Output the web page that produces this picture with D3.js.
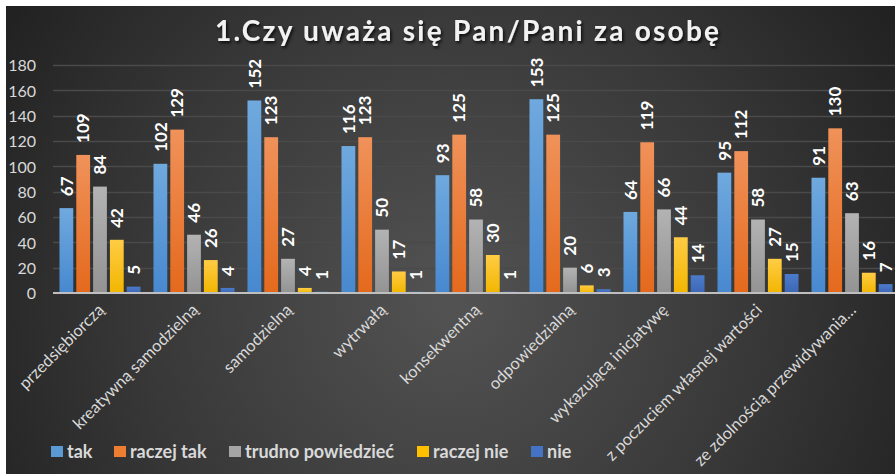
<!DOCTYPE html>
<html><head><meta charset="utf-8">
<script src="https://cdn.jsdelivr.net/npm/d3@7"></script>
<style>
html,body{margin:0;padding:0;background:#fff;}
svg{display:block;}
</style></head>
<body>
<svg id="c" width="895" height="474"></svg>
<script>
const categories = ["przedsiębiorczą","kreatywną samodzielną","samodzielną","wytrwałą","konsekwentną","odpowiedzialną","wykazującą inicjatywę","z poczuciem własnej wartości","ze zdolnością przewidywania…"];
const seriesNames = ["tak","raczej tak","trudno powiedzieć","raczej nie","nie"];
const tak        = [67,102,152,116,93,153,64,95,91];
const raczejTak  = [109,129,123,123,125,125,119,112,130];
const trudno     = [84,46,27,50,58,20,66,58,63];
const raczejNie  = [42,26,4,17,30,6,44,27,16];
const nie        = [5,4,1,1,1,3,14,15,7];
const yTicks     = [0,20,40,60,80,100,120,140,160,180];
const title = "1.Czy uważa się Pan/Pani za osobę";

const seriesValues = [tak, raczejTak, trudno, raczejNie, nie];
const colors = [
  ["#6fa9de","#4788cf"],
  ["#f0925a","#e4691c"],
  ["#b3b3b3","#939393"],
  ["#ffcc45","#f2b600"],
  ["#4c7bcb","#3d66b6"]
];
const legendColors = ["#5b9bd5","#ed7d31","#a5a5a5","#ffc000","#4472c4"];

const svg = d3.select("#c");
const defs = svg.append("defs");
const bg = defs.append("radialGradient").attr("id","bg")
  .attr("gradientUnits","userSpaceOnUse").attr("cx",450).attr("cy",300).attr("r",560);
bg.append("stop").attr("offset","0").attr("stop-color","#535353");
bg.append("stop").attr("offset","0.55").attr("stop-color","#383838");
bg.append("stop").attr("offset","1").attr("stop-color","#1e1e1e");
colors.forEach((c,i)=>{
  const g = defs.append("linearGradient").attr("id","g"+i).attr("x1",0).attr("y1",0).attr("x2",0).attr("y2",1);
  g.append("stop").attr("offset",0).attr("stop-color",c[0]);
  g.append("stop").attr("offset",1).attr("stop-color",c[1]);
});
const f = defs.append("filter").attr("id","sh").attr("x","-5%").attr("y","-20%").attr("width","110%").attr("height","160%");
f.append("feDropShadow").attr("dx",1.5).attr("dy",2).attr("stdDeviation",1.5).attr("flood-color","#000").attr("flood-opacity",0.8);

// background
svg.append("rect").attr("x",0).attr("y",0).attr("width",895).attr("height",474).attr("fill","#fff");
svg.append("rect").attr("x",6).attr("y",6).attr("width",889).attr("height",468).attr("fill","url(#bg)");

const y = d3.scaleLinear().domain([0,180]).range([293,65]);
const x0 = d3.scaleBand().domain(categories).range([53,899]).paddingInner(0.138).paddingOuter(0.069);
const x1 = d3.scaleBand().domain(seriesNames).range([0,x0.bandwidth()]).paddingInner(0.18);

// gridlines
svg.append("g").selectAll("line").data(yTicks.filter(d=>d>0)).join("line")
  .attr("x1",53).attr("x2",895).attr("y1",d=>Math.round(y(d))+0.5).attr("y2",d=>Math.round(y(d))+0.5)
  .attr("stroke","#4a4a4a").attr("stroke-width",1.5);

// y axis labels
const yAxis = d3.axisLeft(y).tickValues(yTicks).tickSize(0).tickPadding(0);
const ya = svg.append("g").attr("transform","translate(36,0)").call(yAxis);
ya.select(".domain").remove();
ya.selectAll("text").attr("fill","#d9d9d9").attr("font-family","Lato, 'Open Sans', sans-serif")
  .attr("font-size",16).attr("dy","0.36em");

// bars
const groups = svg.append("g").selectAll("g").data(categories).join("g")
  .attr("transform",d=>`translate(${x0(d)},0)`);
groups.each(function(cat,ci){
  const g = d3.select(this);
  seriesNames.forEach((s,si)=>{
    const v = seriesValues[si][ci];
    g.append("rect").attr("x",x1(s)).attr("y",y(v)).attr("width",x1.bandwidth())
      .attr("height",y(0)-y(v)).attr("fill",`url(#g${si})`);
    const cx = x1(s)+x1.bandwidth()/2;
    const ty = y(v)-12;
    g.append("text").attr("transform",`translate(${cx},${ty}) rotate(-90)`)
      .attr("dy","0.36em").attr("text-anchor","start")
      .attr("fill","#ffffff").attr("font-family","Lato, 'Open Sans', sans-serif")
      .attr("font-weight","bold").attr("font-size",17).text(v);
  });
});

// baseline axis
svg.append("line").attr("x1",53).attr("x2",895).attr("y1",y(0)).attr("y2",y(0))
  .attr("stroke","#bfbfbf").attr("stroke-width",2);

// x labels
const xAxis = d3.axisBottom(x0).tickSize(0);
const xa = svg.append("g").attr("transform","translate(0,296)").call(xAxis);
xa.select(".domain").remove();
xa.selectAll("text")
  .attr("fill","#d9d9d9").attr("font-family","Lato, 'Open Sans', sans-serif").attr("font-size",16.5)
  .attr("text-anchor","end").attr("dy","0").attr("y",0)
  .attr("transform","translate(5,15) rotate(-45)");

// title
const t = svg.append("text").attr("x",467).attr("y",41).attr("text-anchor","middle")
  .attr("fill","#f2f2f2").attr("font-family","Lato, 'Open Sans', sans-serif")
  .attr("font-weight","bold").attr("font-size",28).attr("filter","url(#sh)").text(title);
const len = t.node().getComputedTextLength();
const ls = (504 - len)/(title.length-1);
t.attr("letter-spacing",ls);
t.attr("x",467 + ls/2);

// legend
const legendX = [51,114,229,417,531];
const lg = svg.append("g");
seriesNames.forEach((s,i)=>{
  lg.append("rect").attr("x",legendX[i]).attr("y",446).attr("width",12).attr("height",11).attr("fill",legendColors[i]);
  lg.append("text").attr("x",legendX[i]+16).attr("y",458).attr("fill","#d9d9d9")
    .attr("font-family","Lato, 'Open Sans', sans-serif").attr("font-weight","bold").attr("font-size",18).text(s);
});
</script>
</body></html>
